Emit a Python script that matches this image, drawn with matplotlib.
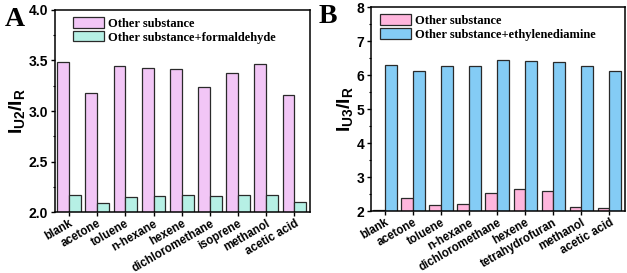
import numpy as np
import matplotlib
matplotlib.use('Agg')
import matplotlib.pyplot as plt
import matplotlib.transforms as mtransforms
from matplotlib.ticker import MultipleLocator, FormatStrFormatter

# Panel A data
cats_a = ['blank', 'acetone', 'toluene', 'n-hexane', 'hexene',
          'dichloromethane', 'isoprene', 'methanol', 'acetic acid']
other_a = [3.49, 3.18, 3.45, 3.43, 3.42, 3.24, 3.38, 3.47, 3.16]
form_a = [2.17, 2.09, 2.15, 2.16, 2.165, 2.16, 2.165, 2.17, 2.10]

# Panel B data
cats_b = ['blank', 'acetone', 'toluene', 'n-hexane', 'dichloromethane',
          'hexene', 'tetrahydrofuran', 'methanol', 'acetic acid']
other_b = [2.03, 2.38, 2.17, 2.21, 2.53, 2.65, 2.60, 2.13, 2.10]
eda_b = [6.31, 6.13, 6.28, 6.26, 6.44, 6.41, 6.39, 6.28, 6.13]

plt.rcParams['font.family'] = 'Liberation Sans'
plt.rcParams['mathtext.fontset'] = 'custom'
plt.rcParams['mathtext.bf'] = 'Liberation Sans:bold'
plt.rcParams['mathtext.rm'] = 'Liberation Sans'

fig = plt.figure(figsize=(6.27, 2.73), dpi=100)
ax_a = fig.add_axes([0.0877, 0.2234, 0.4067, 0.74])
ax_b = fig.add_axes([0.5917, 0.227, 0.405, 0.747])

w = 0.42


def draw(ax, cats, s1, s2, c1, c2, lab2, ylim, major, minor, ylabel, letter, lx):
    x = np.arange(len(cats))
    ax.bar(x - w / 2, s1, w, color=c1, edgecolor='#2a2a2a',
           linewidth=0.9, label='Other substance')
    ax.bar(x + w / 2, s2, w, color=c2, edgecolor='#2a2a2a',
           linewidth=0.9, label=lab2)
    ax.set_ylim(*ylim)
    ax.set_xlim(-0.5, 8.55)
    ax.yaxis.set_major_locator(MultipleLocator(major))
    ax.yaxis.set_minor_locator(MultipleLocator(minor))
    ax.set_xticks(x)
    ax.set_xticklabels(cats, rotation=30, ha='right', rotation_mode='anchor',
                       fontsize=8.3, fontweight='bold')
    shift = mtransforms.ScaledTranslation(6 / 100, 4 / 100, fig.dpi_scale_trans)
    for lbl in ax.get_xticklabels():
        lbl.set_transform(lbl.get_transform() + shift)
    ax.tick_params(axis='y', which='major', direction='out', length=3,
                   width=1, labelsize=10, pad=2)
    ax.tick_params(axis='y', which='minor', direction='out', length=1.5, width=0.8)
    ax.tick_params(axis='x', direction='out', length=3, width=1, pad=1)
    for sp in ax.spines.values():
        sp.set_linewidth(1.1)
    ax.set_ylabel(ylabel, fontsize=14, labelpad=1)
    ax.legend(loc='upper left', bbox_to_anchor=(lx, 0.97), frameon=False,
              prop={'family': 'Liberation Serif', 'weight': 'bold', 'size': 9},
              handlelength=2.5, handleheight=0.9, handletextpad=0.3,
              labelspacing=0.1, borderaxespad=0.0, borderpad=0.1)
    pos = ax.get_position()
    fig.text(0.008 if letter == 'A' else 0.508, pos.y1 - 0.06, letter,
             fontsize=20, fontweight='bold', family='Liberation Serif')


draw(ax_a, cats_a, other_a, form_a, '#F2C6F6', '#B6F0E5',
     'Other substance+formaldehyde', (2.0, 4.0), 0.5, 0.25,
     r'$\mathbf{I_{U2}/I_R}$', 'A', 0.065)
ax_a.yaxis.set_major_formatter(FormatStrFormatter('%.1f'))

draw(ax_b, cats_b, other_b, eda_b, '#FFB6DD', '#84CCF5',
     'Other substance+ethylenediamine', (2, 8), 1, 0.5,
     r'$\mathbf{I_{U3}/I_R}$', 'B', 0.03)

for ax in (ax_a, ax_b):
    for lbl in ax.get_yticklabels():
        lbl.set_fontweight('bold')

fig.savefig('out.png', dpi=100)
